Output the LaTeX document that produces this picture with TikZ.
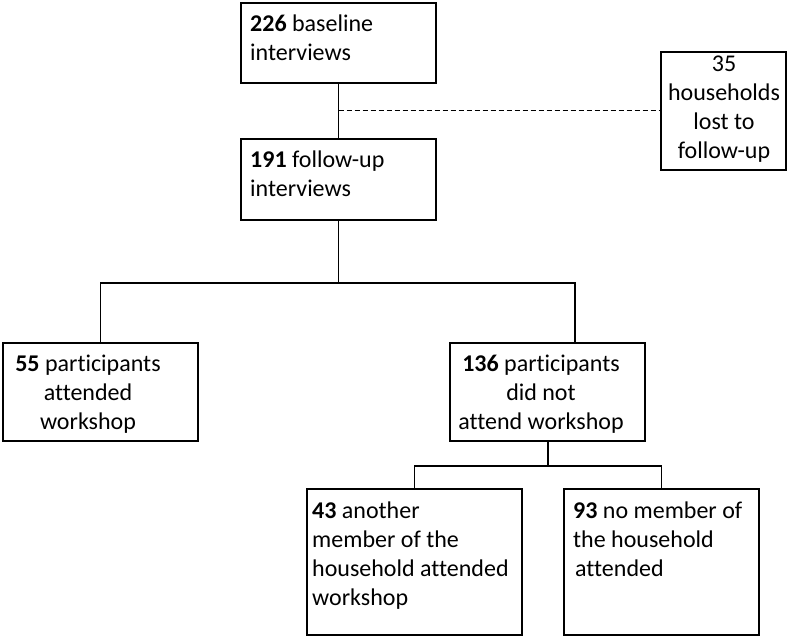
\documentclass[tikz,border=0pt]{standalone}
\usepackage{fontspec}
\setmainfont[Ligatures=NoCommon]{Carlito}
\usepackage{tikz}

\begin{document}
\begin{tikzpicture}[x=1pt, y=-1pt,
  box/.style={draw, line width=1.3pt, inner sep=0pt, outer sep=0pt},
  txt/.style={inner sep=0pt, font=\fontsize{24}{29}\selectfont},
  link/.style={line width=1.3pt}]
\useasboundingbox (0,0) rectangle (789,639);

\node[box, minimum width=195, minimum height=80] (base) at (338.5,43) {};
\node[box, minimum width=195, minimum height=81] (follow) at (338.5,179.5) {};
\node[box, minimum width=125, minimum height=118] (lost) at (723.5,111) {};
\node[box, minimum width=195, minimum height=98] (attend) at (100.5,392) {};
\node[box, minimum width=195, minimum height=98] (notatt) at (547.5,392) {};
\node[box, minimum width=215, minimum height=146] (other) at (414.5,562) {};
\node[box, minimum width=195, minimum height=146] (nomem) at (661.5,562) {};

\node[txt, anchor=north west, align=left] (baset) at (250,15) {\textbf{226} baseline\\interviews};
\node[txt, anchor=north west, align=left] (followt) at (250,151) {\textbf{191} follow-up\\interviews};
\node[txt, anchor=north, align=center] (lostt) at (724,56) {35\\households\\lost to\\follow-up};
\node[txt, anchor=north, align=center] (attendt) at (88,355) {\textbf{55} participants\\attended\\workshop};
\node[txt, anchor=north, align=center] (notattt) at (541,355) {\textbf{136} participants\\did not\\attend workshop};
\node[txt, anchor=north west, align=left] (othert) at (312,502) {\textbf{43} another\\member of the\\household attended\\workshop};
\node[txt, anchor=north west, align=left] (nomemt) at (573,502) {\textbf{93} no member of\\the household\\\hspace{2pt}attended};

\coordinate (split) at (base.south |- lost.west);
\coordinate (fork1) at (338.5,283);
\coordinate (right1) at (575,283);
\coordinate (fork2) at (548,466);

\draw[link] (base) -- (follow);
\draw[line width=1pt, dash pattern=on 5pt off 3pt] (split) -- (lost.west);
\draw[link] (follow.south) -- (fork1);
\draw[link] (fork1) -| (attend.north);
\draw[link] (fork1) -- (right1) -- (right1 |- notatt.north);
\draw[link] (notatt.south -| fork2) -- (fork2);
\draw[link] (fork2) -| (other.north);
\draw[link] (fork2) -| (nomem.north);
\end{tikzpicture}
\end{document}
